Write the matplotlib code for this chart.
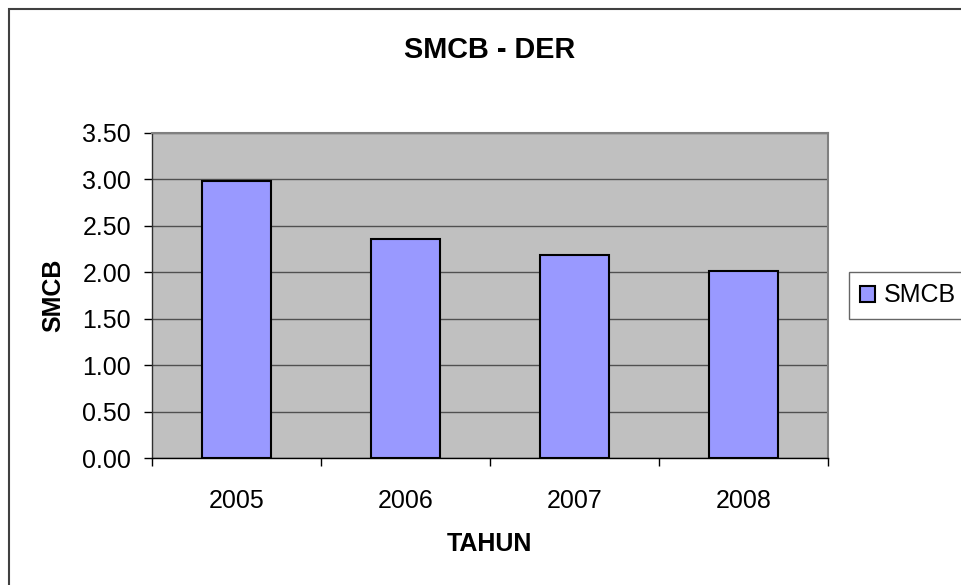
import matplotlib.pyplot as plt
import matplotlib.patches as mpatches

plt.rcParams['font.family'] = ['Liberation Sans', 'DejaVu Sans']

# data
years = ['2005', '2006', '2007', '2008']
smcb = [2.98, 2.36, 2.19, 2.01]
yticks = [0.0, 0.5, 1.0, 1.5, 2.0, 2.5, 3.0, 3.5]

fig = plt.figure(figsize=(9.61, 5.85), dpi=100)
ax = fig.add_axes([0.158, 0.2166, 0.7034, 0.5566])

ax.set_facecolor('#C0C0C0')
x = range(len(years))
ax.bar(x, smcb, width=0.41, color='#9999FF', edgecolor='black', linewidth=1.5,
       label='SMCB', zorder=3)

# gridlines
ax.set_ylim(0, 3.5)
ax.set_yticks(yticks)
ax.set_yticklabels([f'{v:.2f}' for v in yticks])
ax.yaxis.grid(True, color='#505050', linewidth=1.0, zorder=1)
ax.set_axisbelow(True)

# x ticks on category boundaries, labels in the middle
ax.set_xlim(-0.5, len(years) - 0.5)
ax.set_xticks(list(x))
ax.set_xticklabels(years)
ax.set_xticks([i - 0.5 for i in range(len(years) + 1)], minor=True)
ax.tick_params(axis='x', which='major', length=0, pad=22, labelsize=18)
ax.tick_params(axis='x', which='minor', length=5.5, width=1, direction='out')
ax.tick_params(axis='y', length=5.5, width=1, direction='out', pad=9.5, labelsize=18)

for side in ['top', 'right']:
    ax.spines[side].set_color('#808080')
    ax.spines[side].set_linewidth(1.5)
ax.spines['left'].set_color('#303030')
ax.spines['bottom'].set_color('black')
for side in ['left', 'bottom']:
    ax.spines[side].set_linewidth(1.0)

ax.set_xlabel('TAHUN', fontsize=18, fontweight='bold', labelpad=13.5)
ax.set_ylabel('SMCB', fontsize=18, fontweight='bold', labelpad=12)
fig.text(0.5 * (0.158 + 0.8614), 1 - 50 / 585, 'SMCB - DER', ha='center', va='center',
         fontsize=20.8, fontweight='bold')

leg = fig.legend(loc='center left', bbox_to_anchor=(849 / 961, 1 - 295.5 / 585),
                 fontsize=18, frameon=True, fancybox=False, handlelength=0.6,
                 handleheight=0.6, handletextpad=0.36, borderpad=0.45, borderaxespad=0)
leg.get_frame().set_edgecolor('#404040')
leg.get_frame().set_linewidth(1.0)

# outer chart border (runs off the right and bottom edges)
border = mpatches.Rectangle((9 / 961, -0.1), 1.2, 1 - 9 / 585 + 0.1,
                            transform=fig.transFigure, fill=False,
                            edgecolor='#404040', linewidth=1.5, clip_on=False)
fig.add_artist(border)

fig.savefig('out.png', dpi=100)
